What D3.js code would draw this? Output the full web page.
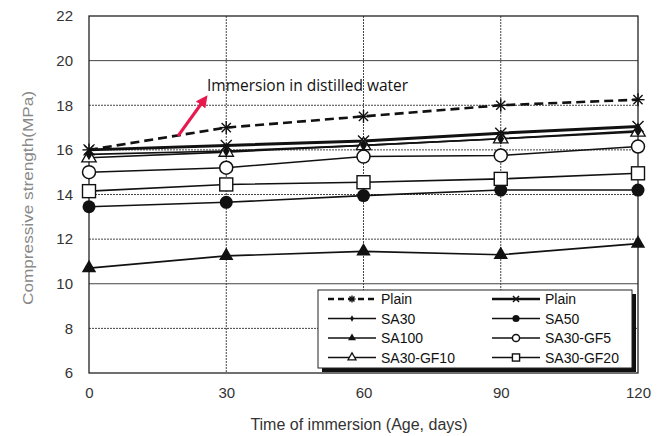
<!DOCTYPE html>
<html>
<head>
<meta charset="utf-8">
<script src="https://cdn.jsdelivr.net/npm/d3@7"></script>
<style>
  body { margin: 0; background: #fff; }
  svg { display: block; }
</style>
</head>
<body>
<svg id="chart" width="670" height="436"></svg>
<script>
// Compressive strength (MPa) vs. immersion age (days)
const days = [0, 30, 60, 90, 120];
const xTicks = [0, 30, 60, 90, 120];
const yTicks = [6, 8, 10, 12, 14, 16, 18, 20, 22];

const plainDashed = [16.0, 17.0, 17.5, 18.0, 18.25];
const plainSolid  = [16.0, 16.2, 16.4, 16.75, 17.05];
const sa30        = [15.8, 15.95, 16.2, 16.5, 16.85];
const sa50        = [13.45, 13.65, 13.95, 14.2, 14.2];
const sa100       = [10.7, 11.25, 11.45, 11.3, 11.8];
const sa30gf5     = [15.0, 15.2, 15.7, 15.75, 16.15];
const sa30gf10    = [15.65, 15.9, 16.2, 16.5, 16.8];
const sa30gf20    = [14.15, 14.45, 14.55, 14.7, 14.95];

const seriesNames = ["Plain", "Plain", "SA30", "SA50", "SA100", "SA30-GF5", "SA30-GF10", "SA30-GF20"];

const series = [
  { name: seriesNames[0], values: plainDashed, marker: "asterisk", dash: "9,5", width: 2.6 },
  { name: seriesNames[1], values: plainSolid,  marker: "cross",    dash: null,  width: 3 },
  { name: seriesNames[2], values: sa30,        marker: "diamond",  dash: null,  width: 1.6 },
  { name: seriesNames[3], values: sa50,        marker: "fcircle",  dash: null,  width: 1.6 },
  { name: seriesNames[4], values: sa100,       marker: "ftri",     dash: null,  width: 1.6 },
  { name: seriesNames[5], values: sa30gf5,     marker: "ocircle",  dash: null,  width: 1.6 },
  { name: seriesNames[6], values: sa30gf10,    marker: "otri",     dash: null,  width: 1.6 },
  { name: seriesNames[7], values: sa30gf20,    marker: "osquare",  dash: null,  width: 1.6 }
];

const svg = d3.select("#chart");
const plotLeft = 89, plotRight = 638, plotTop = 16, plotBottom = 373;

const x = d3.scaleLinear().domain([0, 120]).range([plotLeft, plotRight]);
const y = d3.scaleLinear().domain([6, 22]).range([plotBottom, plotTop]);

// grid
const grid = svg.append("g");
grid.selectAll("line.h").data(yTicks.slice(1, -1)).join("line")
  .attr("x1", plotLeft).attr("x2", plotRight)
  .attr("y1", d => y(d)).attr("y2", d => y(d))
  .attr("stroke", "#444").attr("stroke-width", 1)
  .attr("stroke-dasharray", d => (d === 20 || d === 10) ? null : "2,1");
grid.selectAll("line.v").data(xTicks.slice(1, -1)).join("line")
  .attr("y1", plotTop).attr("y2", plotBottom)
  .attr("x1", d => x(d)).attr("x2", d => x(d))
  .attr("stroke", "#444").attr("stroke-width", 1)
  .attr("stroke-dasharray", "2,1");

// axes
const xAxis = d3.axisBottom(x).tickValues(xTicks).tickSize(0).tickPadding(14);
const yAxis = d3.axisLeft(y).tickValues(yTicks).tickSize(0).tickPadding(16);

const gx = svg.append("g").attr("transform", `translate(0,${plotBottom})`).call(xAxis);
const gy = svg.append("g").attr("transform", `translate(${plotLeft},0)`).call(yAxis);
[gx, gy].forEach(g => {
  g.select(".domain").remove();
  g.selectAll("text").attr("font-family", "Liberation Sans, Arial, sans-serif")
    .attr("font-size", 15).attr("fill", "#333");
});

// frame
svg.append("rect").attr("x", plotLeft).attr("y", plotTop)
  .attr("width", plotRight - plotLeft).attr("height", plotBottom - plotTop)
  .attr("fill", "none").attr("stroke", "#222").attr("stroke-width", 1.3);

// axis titles
svg.append("text").attr("x", 359).attr("y", 430)
  .attr("text-anchor", "middle")
  .attr("font-family", "Liberation Sans, Arial, sans-serif").attr("font-size", 16)
  .attr("fill", "#333").text("Time of immersion (Age, days)");
svg.append("text")
  .attr("transform", `translate(33,198) rotate(-90)`)
  .attr("text-anchor", "middle")
  .attr("font-family", "Liberation Sans, Arial, sans-serif").attr("font-size", 15)
  .attr("textLength", 214).attr("lengthAdjust", "spacingAndGlyphs")
  .attr("fill", "#888").text("Compressive strength(MPa)");

// marker drawing
function drawMarker(g, type, cx, cy, s) {
  s = s || 1;
  switch (type) {
    case "asterisk": {
      const r = 6.5 * s;
      for (let a = 0; a < 180; a += 45) {
        const t = a * Math.PI / 180;
        g.append("line").attr("x1", cx - r * Math.cos(t)).attr("y1", cy - r * Math.sin(t))
          .attr("x2", cx + r * Math.cos(t)).attr("y2", cy + r * Math.sin(t))
          .attr("stroke", "#111").attr("stroke-width", 1.4);
      }
      break;
    }
    case "cross": {
      const r = 5.5 * s;
      g.append("path").attr("d", `M${cx - r},${cy - r}L${cx + r},${cy + r}M${cx - r},${cy + r}L${cx + r},${cy - r}`)
        .attr("stroke", "#111").attr("stroke-width", 1.4);
      break;
    }
    case "diamond":
      g.append("path").attr("d", d3.symbol(d3.symbolDiamond, 40 * s * s)())
        .attr("transform", `translate(${cx},${cy})`).attr("fill", "#111");
      break;
    case "fcircle":
      g.append("circle").attr("cx", cx).attr("cy", cy).attr("r", 6.5 * s).attr("fill", "#111");
      break;
    case "ocircle":
      g.append("circle").attr("cx", cx).attr("cy", cy).attr("r", 6.5 * s)
        .attr("fill", "#fff").attr("stroke", "#111").attr("stroke-width", 1.5);
      break;
    case "ftri":
      g.append("path").attr("d", d3.symbol(d3.symbolTriangle, 90 * s * s)())
        .attr("transform", `translate(${cx},${cy})`).attr("fill", "#111");
      break;
    case "otri":
      g.append("path").attr("d", d3.symbol(d3.symbolTriangle, 90 * s * s)())
        .attr("transform", `translate(${cx},${cy})`).attr("fill", "#fff")
        .attr("stroke", "#111").attr("stroke-width", 1.3);
      break;
    case "osquare": {
      const h = 6.5 * s;
      g.append("rect").attr("x", cx - h).attr("y", cy - h).attr("width", 2 * h).attr("height", 2 * h)
        .attr("fill", "#fff").attr("stroke", "#111").attr("stroke-width", 1.4);
      break;
    }
  }
}

const line = d3.line().x((d, i) => x(days[i])).y(d => y(d));
const plot = svg.append("g");

// lines (drawn bottom-up so the key series sit on top)
const order = [4, 3, 7, 5, 6, 2, 1, 0];
order.forEach(k => {
  const s = series[k];
  plot.append("path").datum(s.values).attr("d", line)
    .attr("fill", "none").attr("stroke", "#111").attr("stroke-width", s.width)
    .attr("stroke-dasharray", s.dash);
});
order.forEach(k => {
  const s = series[k];
  const g = plot.append("g");
  s.values.forEach((v, i) => drawMarker(g, s.marker, x(days[i]), y(v)));
});

// annotation
svg.append("text").attr("x", 207).attr("y", 91)
  .attr("font-family", "Open Sans, Noto Sans, sans-serif").attr("font-size", 15.5)
  .attr("fill", "#111").text("Immersion in distilled water");
svg.append("defs").append("marker").attr("id", "arrowhead")
  .attr("viewBox", "0 0 10 10").attr("refX", 5).attr("refY", 5)
  .attr("markerWidth", 4).attr("markerHeight", 4).attr("orient", "auto")
  .append("path").attr("d", "M0,0L10,5L0,10z").attr("fill", "#e8194d");
svg.append("line").attr("x1", 178).attr("y1", 136).attr("x2", 204).attr("y2", 100)
  .attr("stroke", "#e8194d").attr("stroke-width", 3).attr("marker-end", "url(#arrowhead)");

// legend
const lg = svg.append("g");
const lx = 318, ly = 290, lw = 314, lh = 78;
lg.append("rect").attr("x", lx + 4).attr("y", ly + 4).attr("width", lw).attr("height", lh).attr("fill", "#111");
lg.append("rect").attr("x", lx).attr("y", ly).attr("width", lw).attr("height", lh)
  .attr("fill", "#fff").attr("stroke", "#222").attr("stroke-width", 1);
series.forEach((s, i) => {
  const col = i % 2, row = Math.floor(i / 2);
  const x0 = col === 0 ? 328 : 492;
  const x1 = x0 + 48;
  const yy = 299 + row * 19.5;
  lg.append("line").attr("x1", x0).attr("x2", x1).attr("y1", yy).attr("y2", yy)
    .attr("stroke", "#111").attr("stroke-width", Math.min(s.width, 2.6))
    .attr("stroke-dasharray", s.dash ? "6,4" : null);
  drawMarker(lg, s.marker, (x0 + x1) / 2, yy, 0.55);
  lg.append("text").attr("x", x1 + 5).attr("y", yy + 5)
    .attr("font-family", "Liberation Sans, Arial, sans-serif").attr("font-size", 14)
    .attr("fill", "#111").text(s.name);
});
</script>
</body>
</html>
